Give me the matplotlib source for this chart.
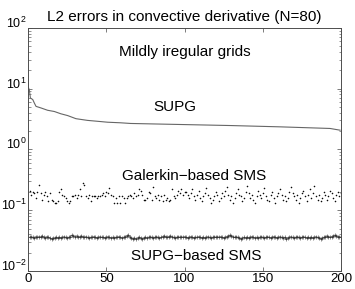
import numpy as np
import matplotlib
matplotlib.use("Agg")
import matplotlib.pyplot as plt

plt.rcParams['font.family'] = ['Liberation Sans', 'DejaVu Sans']
plt.rcParams['mathtext.fontset'] = 'custom'
plt.rcParams['mathtext.rm'] = 'Liberation Sans'

title = "L2 errors in convective derivative (N=80)"

# SUPG curve, read at knots along the line
supg_x = [0, 0.2, 0.8, 1.5, 3.0, 4.0, 5.1, 8.3, 12.5, 16.8, 21, 25.3, 30.6, 38, 44.4,
          50.8, 59, 65.6, 129, 161, 193, 199.4]
supg_y = [14.1, 10.4, 9.6, 7.0, 6.6, 5.8, 5.1, 4.8, 4.4, 4.2, 3.85, 3.6, 3.2, 3.0, 2.9,
          2.8, 2.74, 2.67, 2.47, 2.35, 2.21, 2.07]

# Galerkin-based SMS (dots), one value per grid
galerkin_sms = [
    0.21, 0.18, 0.20, 0.19, 0.16, 0.20, 0.26, 0.19, 0.15, 0.18,
    0.20, 0.17, 0.14, 0.19, 0.15, 0.14, 0.13, 0.13, 0.14, 0.20,
    0.22, 0.18, 0.17, 0.16, 0.14, 0.13, 0.14, 0.17, 0.17, 0.18,
    0.16, 0.18, 0.22, 0.17, 0.28, 0.26, 0.17, 0.16, 0.18, 0.14,
    0.17, 0.17, 0.17, 0.16, 0.17, 0.17, 0.18, 0.19, 0.17, 0.20,
    0.19, 0.23, 0.18, 0.17, 0.13, 0.16, 0.13, 0.17, 0.13, 0.17,
    0.16, 0.13, 0.16, 0.17, 0.18, 0.17, 0.16, 0.19, 0.17, 0.18,
    0.22, 0.21, 0.18, 0.15, 0.15, 0.16, 0.20, 0.19, 0.15, 0.24,
    0.17, 0.16, 0.18, 0.15, 0.17, 0.14, 0.18, 0.15, 0.16, 0.14,
    0.15, 0.22, 0.17, 0.16, 0.18, 0.21, 0.19, 0.22, 0.18, 0.20,
    0.20, 0.18, 0.16, 0.19, 0.22, 0.17, 0.15, 0.18, 0.21, 0.16,
    0.14, 0.17, 0.19, 0.23, 0.18, 0.16, 0.13, 0.15, 0.17, 0.20,
    0.18, 0.14, 0.16, 0.19, 0.17, 0.21, 0.24, 0.18, 0.15, 0.17,
    0.13, 0.16, 0.19, 0.22, 0.18, 0.17, 0.14, 0.16, 0.20, 0.25,
    0.19, 0.16, 0.18, 0.15, 0.13, 0.17, 0.21, 0.18, 0.16, 0.19,
    0.23, 0.17, 0.15, 0.14, 0.18, 0.20, 0.16, 0.13, 0.17, 0.19,
    0.22, 0.18, 0.15, 0.17, 0.14, 0.16, 0.20, 0.24, 0.19, 0.17,
    0.15, 0.18, 0.13, 0.16, 0.19, 0.21, 0.17, 0.14, 0.18, 0.22,
    0.16, 0.19, 0.25, 0.17, 0.15, 0.18, 0.14, 0.16, 0.20, 0.18,
    0.15, 0.17, 0.21, 0.19, 0.16, 0.14, 0.18, 0.20, 0.17, 0.19,
]

# SUPG-based SMS (line with + markers)
supg_sms = [
    0.036, 0.037, 0.036, 0.035, 0.037, 0.036, 0.037, 0.036, 0.038, 0.036, 0.035, 0.037, 0.036, 0.035, 0.034, 0.035, 0.035, 0.036, 0.035, 0.036,
    0.035, 0.036, 0.037, 0.036, 0.035, 0.036, 0.037, 0.039, 0.038, 0.037, 0.038, 0.037, 0.036, 0.038, 0.037, 0.036, 0.037, 0.036, 0.035, 0.036,
    0.036, 0.037, 0.036, 0.035, 0.036, 0.037, 0.036, 0.036, 0.035, 0.036, 0.037, 0.036, 0.035, 0.036, 0.035, 0.036, 0.036, 0.037, 0.036, 0.035,
    0.036, 0.037, 0.038, 0.039, 0.037, 0.035, 0.034, 0.035, 0.034, 0.035, 0.036, 0.035, 0.034, 0.035, 0.036, 0.035, 0.036, 0.037, 0.036, 0.035,
    0.036, 0.037, 0.036, 0.035, 0.036, 0.037, 0.038, 0.037, 0.036, 0.037, 0.038, 0.037, 0.036, 0.035, 0.036, 0.037, 0.036, 0.037, 0.036, 0.037,
    0.036, 0.035, 0.036, 0.037, 0.036, 0.035, 0.036, 0.036, 0.037, 0.036, 0.035, 0.036, 0.035, 0.036, 0.037, 0.036, 0.035, 0.036, 0.037, 0.036,
    0.037, 0.036, 0.037, 0.036, 0.035, 0.036, 0.037, 0.038, 0.039, 0.038, 0.037, 0.036, 0.037, 0.036, 0.035, 0.034, 0.035, 0.036, 0.035, 0.036,
    0.035, 0.036, 0.037, 0.036, 0.035, 0.036, 0.035, 0.036, 0.037, 0.036, 0.035, 0.036, 0.037, 0.036, 0.035, 0.036, 0.037, 0.036, 0.035, 0.036,
    0.037, 0.036, 0.035, 0.036, 0.034, 0.035, 0.036, 0.037, 0.036, 0.035, 0.036, 0.037, 0.036, 0.035, 0.036, 0.037, 0.036, 0.035, 0.036, 0.035,
    0.036, 0.035, 0.036, 0.037, 0.036, 0.035, 0.034, 0.035, 0.036, 0.037, 0.038, 0.037, 0.036, 0.037, 0.038, 0.039, 0.038, 0.037, 0.037, 0.036,
]

grid_idx = np.arange(1, len(galerkin_sms) + 1)

fig = plt.figure(figsize=(3.55, 2.89), dpi=100)
ax = fig.add_axes([0.079, 0.062, 0.8816, 0.842])

ax.plot(supg_x, supg_y, color="0.4", linewidth=0.8)
ax.plot(grid_idx, galerkin_sms, linestyle="none", marker="o", markersize=0.8,
        markeredgewidth=0.3, color="black")
ax.plot(grid_idx, supg_sms, color="0.5", linewidth=0.7, marker="+", markersize=2.5,
        markeredgewidth=0.4, markeredgecolor="0.2")

ax.set_yscale("log")
ax.set_xlim(0, 200)
ax.set_ylim(1e-2, 1e2)
ax.set_xticks([0, 50, 100, 150, 200])
ax.tick_params(which="both", direction="in", top=True, right=True, labelsize=9.5, color="0.4")
ax.tick_params(which="major", length=3, width=0.6, pad=1.5)
ax.tick_params(which="minor", length=1.8, width=0.5)
ax.tick_params(axis="y", which="major", labelsize=9, pad=1)
for lbl in ax.get_yticklabels():
    lbl.set_verticalalignment("baseline")
for s in ax.spines.values():
    s.set_linewidth(0.7)
    s.set_color("0.3")

ax.text(100, 40, "Mildly iregular grids", ha="center", va="center", fontsize=11)
ax.text(93.6, 4.9, "SUPG", ha="center", va="center", fontsize=11)
ax.text(106, 0.37, "Galerkin\u2212based SMS", ha="center", va="center", fontsize=11)
ax.text(107.6, 0.018, "SUPG\u2212based SMS", ha="center", va="center", fontsize=11)

ax.set_title(title, fontsize=11, pad=5)

plt.savefig("out.png", dpi=100)
